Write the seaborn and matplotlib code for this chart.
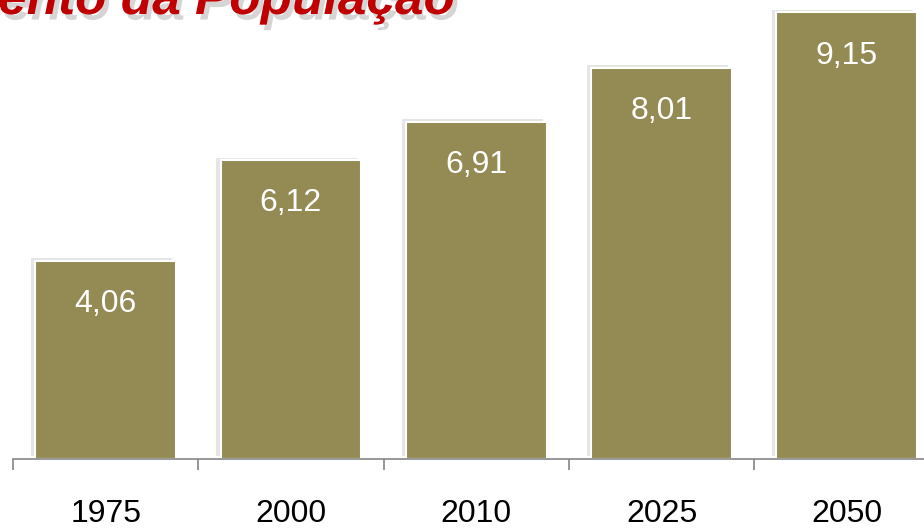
import numpy as np
import pandas as pd
import matplotlib
matplotlib.use('Agg')
import matplotlib.pyplot as plt
import matplotlib.patheffects as pe
import seaborn as sns

# dados
anos = ['1975', '2000', '2010', '2025', '2050']
populacao = [4.06, 6.12, 6.91, 8.01, 9.15]
rotulos = ['4,06', '6,12', '6,91', '8,01', '9,15']
titulo = 'Crescimento da População'

sns.set_style('white')
plt.rcParams['font.family'] = ['Liberation Sans', 'DejaVu Sans']

fig = plt.figure(figsize=(9.24, 5.29), dpi=100)
ax = fig.add_axes([0.0141, 0.1323, 1.0027, 0.8677])

df = pd.DataFrame({'ano': anos, 'pop': populacao})
sns.barplot(data=df, x='ano', y='pop', color='#948A54', saturation=1,
            width=0.76, edgecolor='white', linewidth=1.5, ax=ax)

for p, txt in zip(ax.patches, rotulos):
    p.set_path_effects([pe.SimplePatchShadow(offset=(-3, 2), shadow_rgbFace='#aaaaaa', alpha=0.3),
                        pe.Normal()])
    ax.annotate(txt, (p.get_x() + p.get_width() / 2, p.get_height()),
                xytext=(0, -31), textcoords='offset points',
                ha='center', va='center', color='white', fontsize=23)

ax.set_xlim(-0.5, 4.5)
ax.set_ylim(0, 9.406)
ax.set_xlabel('')
ax.set_ylabel('')
ax.set_yticks([])
for s in ['left', 'right', 'top']:
    ax.spines[s].set_visible(False)
ax.spines['bottom'].set_color('#868686')
ax.spines['bottom'].set_linewidth(1.2)

ax.set_xticks(np.arange(-0.5, 5, 1), minor=True)
ax.tick_params(axis='x', which='minor', bottom=True, length=8, width=1.2,
               color='#868686', direction='out')
ax.tick_params(axis='x', which='major', bottom=True, length=0, pad=29,
               labelsize=23, labelcolor='black')

# titulo cortado no topo, como na imagem original
fig.text(455 / 924, 1 - 14 / 529, titulo, ha='right', va='baseline',
         fontsize=37, fontweight='bold', fontstyle='italic', color='#C00000',
         path_effects=[pe.withSimplePatchShadow(offset=(3, -4), shadow_rgbFace='#888888', alpha=0.35)])

fig.savefig('out.png', dpi=100)
